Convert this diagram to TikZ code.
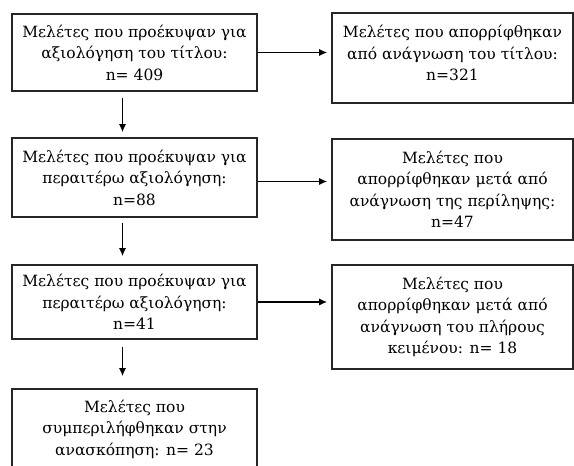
\documentclass[tikz,border=0pt]{standalone}
\usepackage{fontspec}
\setmainfont{DejaVu Serif}
\usetikzlibrary{arrows.meta}

\begin{document}
\begin{tikzpicture}[x=1pt,y=-1pt,
  stage/.style={draw=black!85,line width=1.6pt,align=center,inner sep=0pt,font=\fontsize{15.5}{21.5}\selectfont},
  stageL/.style={stage,minimum width=245pt},
  stageR/.style={stage,minimum width=241pt},
  flow/.style={-{Latex[length=8pt,width=7pt]},line width=1.3pt}]
\def\xl{134.5}
\def\xr{452.5}
\def\dx{-12pt}

\useasboundingbox (0,0) rectangle (574,466);
\clip (0,0) rectangle (574,466);

% left column
\node[stageL,minimum height=77pt] (T) at (\xl,52.5) {Μελέτες που προέκυψαν για\\αξιολόγηση του τίτλου:\\n= 409};
\node[stageL,minimum height=79pt] (A) at (\xl,177.5) {Μελέτες που προέκυψαν για\\περαιτέρω αξιολόγηση:\\n=88};
\node[stageL,minimum height=74pt] (F) at (\xl,302) {Μελέτες που προέκυψαν για\\περαιτέρω αξιολόγηση:\\n=41};
\node[stageL,minimum height=80pt] (I) at (\xl,429) {Μελέτες που\\συμπεριλήφθηκαν στην\\ανασκόπηση: n= 23};

% right column
\node[stageR,minimum height=90pt] (xT) at (\xr,58) {};
\node[stage,draw=none] (xTtext) at (\xr,53) {Μελέτες που απορρίφθηκαν\\από ανάγνωση του τίτλου:\\n=321};
\node[stageR,minimum height=101pt] (xA) at (\xr,189.5) {Μελέτες που\\απορρίφθηκαν μετά από\\ανάγνωση της περίληψης:\\n=47};
\node[stageR,minimum height=104pt] (xF) at (\xr,317) {Μελέτες που\\απορρίφθηκαν μετά από\\ανάγνωση του πλήρους\\κειμένου: n= 18};

% arrows down
\draw[flow] ([xshift=\dx,yshift=-6pt]T.south) -- ([xshift=\dx,yshift=5pt]A.north);
\draw[flow] ([xshift=\dx,yshift=-5pt]A.south) -- ([xshift=\dx,yshift=8pt]F.north);
\draw[flow] ([xshift=\dx,yshift=-7pt]F.south) -- ([xshift=\dx,yshift=12pt]I.north);

% arrows right
\draw[flow,shorten >=4pt] (T.east) -- (T.east -| xT.west);
\draw[flow,shorten >=4pt] ([yshift=-4pt]A.east) -- ([yshift=-4pt]A.east -| xA.west);
\draw[flow,shorten >=4pt] (F.east) -- (F.east -| xF.west);
\end{tikzpicture}
\end{document}
